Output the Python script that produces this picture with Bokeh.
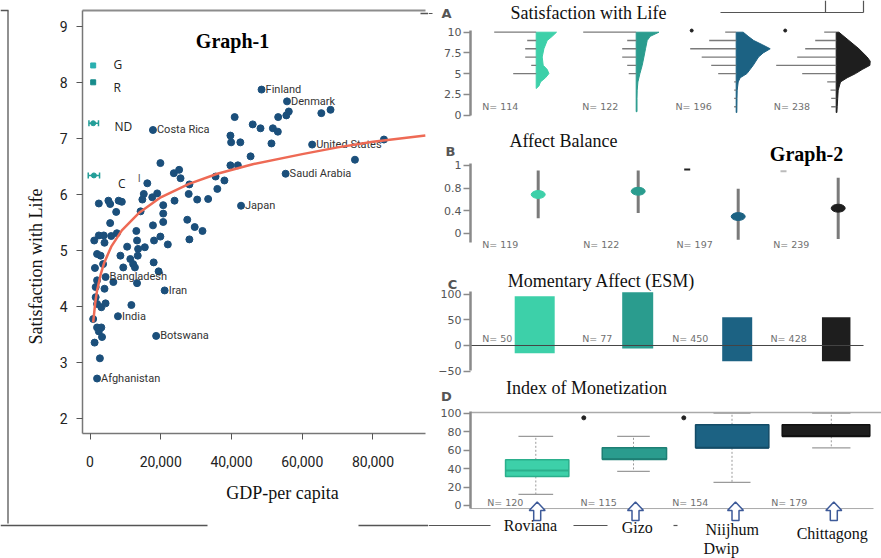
import math
from bokeh.plotting import figure
from bokeh.models import Range1d, LinearAxis, FixedTicker, NumeralTickFormatter
from bokeh.layouts import row
from bokeh.embed import file_html
from bokeh.resources import INLINE
from bokeh.core.properties import value

# ---------------- Graph-1 data ----------------
countries = ["Finland", "Denmark", "United States", "Saudi Arabia", "Japan", "Costa Rica",
             "Bangladesh", "Iran", "India", "Botswana", "Afghanistan"]
country_gdp = [48500, 55700, 62800, 55300, 42700, 17800, 4400, 21100, 7900, 18700, 2000]
country_swl = [7.87, 7.66, 6.89, 6.37, 5.80, 7.15, 4.53, 4.29, 3.83, 3.48, 2.72]

other_gdp = [65400, 68000, 56200, 55500, 53200, 40900, 46000, 48200, 51700, 53100, 39700, 39900,
             42500, 51300, 83100, 74900, 45400, 39700, 41800, 38000, 35500, 36000, 19900, 23700,
             25200, 25600, 28100, 27900, 30300, 33400, 23900, 16200, 19000, 17600, 15200, 14800,
             14300, 20700, 20700, 20700, 27500, 29600, 31800, 28100, 17800, 19900, 18100, 22000,
             15500, 13100, 13300, 13600, 13500, 10500, 8600, 11400, 12200, 12700, 18000, 19400,
             2500, 5200, 5700, 8100, 9000, 7400, 5700, 7600, 6000, 1200, 2500, 3900, 4100, 2000,
             3000, 3700, 1400, 9400, 6600, 13300, 2000, 1600, 4100, 1600, 2000, 3200, 4400, 11700,
             900, 2000, 3200, 2500, 3400, 1300, 2800]
other_swl = [7.45, 7.51, 7.48, 7.41, 7.38, 7.38, 7.25, 7.18, 7.18, 7.12, 7.05, 6.93, 6.93, 6.91,
             6.98, 6.62, 6.68, 6.52, 6.52, 6.25, 6.32, 6.10, 6.56, 6.38, 6.44, 6.29, 6.18, 6.01,
             5.91, 5.92, 5.89, 6.20, 6.02, 5.95, 6.01, 5.91, 5.70, 5.81, 5.66, 5.51, 5.55, 5.42,
             5.35, 5.20, 5.45, 5.25, 5.18, 5.11, 5.06, 5.35, 5.18, 5.03, 4.91, 5.07, 4.91, 4.85,
             4.76, 4.70, 4.79, 4.63, 5.84, 5.89, 5.83, 5.89, 5.87, 5.69, 5.49, 5.31, 5.26, 5.18,
             5.27, 5.27, 5.14, 4.94, 4.91, 4.76, 4.69, 4.70, 4.44, 4.42, 4.47, 4.35, 4.32, 4.17,
             4.05, 3.99, 4.06, 4.03, 3.78, 3.63, 3.63, 3.56, 3.46, 3.36, 3.08]

trend_gdp = [900, 1500, 2000, 3000, 4000, 6000, 9000, 14000, 20000, 28000, 36000, 46000, 60000,
             70000, 80000, 94800]
trend_swl = [3.72, 4.08, 4.29, 4.57, 4.78, 5.07, 5.36, 5.68, 5.95, 6.19, 6.37, 6.54, 6.72, 6.84,
             6.94, 7.05]

site_labels = ["G", "R", "ND", "C"]
site_gdp = [900, 900, 900, 1100]
site_swl = [8.30, 8.00, 7.27, 6.34]
site_err_lo = [None, None, -300, -500]
site_err_hi = [None, None, 2400, 2700]

y_ticks_1 = [2, 3, 4, 5, 6, 7, 8, 9]
x_ticks_1 = [0, 20000, 40000, 60000, 80000]

# ---------------- Graph-2 data ----------------
sites = ["Roviana", "Gizo", "Niijhum", "Chittagong"]
swl_N = [114, 122, 196, 238]
ab_N = [119, 122, 197, 239]
esm_N = [50, 77, 450, 428]
mon_N = [120, 115, 154, 179]

# A: half-violin profiles (level, density width in group units)
violin_levels = [
    [3.2, 3.5, 4, 4.5, 5, 5.5, 6, 7, 8, 9, 9.5, 10],
    [0.4, 2, 3, 4, 5, 6, 7, 8, 9, 9.5, 10],
    [0.3, 2, 3, 4, 4.5, 5, 6, 7, 7.5, 8, 8.5, 9, 9.5, 10],
    [0.3, 1, 2, 3, 4, 4.5, 5, 5.5, 6, 6.5, 7, 8, 9, 10],
]
violin_density = [
    [0.0, 0.027, 0.043, 0.093, 0.127, 0.11, 0.07, 0.06, 0.077, 0.11, 0.16, 0.203],
    [0.008, 0.008, 0.01, 0.017, 0.037, 0.06, 0.077, 0.093, 0.11, 0.14, 0.227],
    [0.006, 0.008, 0.01, 0.02, 0.04, 0.107, 0.17, 0.223, 0.27, 0.34, 0.26, 0.175, 0.12, 0.07],
    [0.007, 0.01, 0.015, 0.02, 0.043, 0.11, 0.193, 0.26, 0.337, 0.34, 0.31, 0.227, 0.127, 0.027],
]
count_levels = [10, 9, 8, 7, 6, 5, 4, 3, 2, 1]
count_len = [
    [0.42, 0.09, 0.11, 0.11, 0.05, 0.23, 0, 0, 0, 0],
    [0.53, 0.09, 0.14, 0.14, 0.09, 0.075, 0, 0, 0, 0],
    [0.11, 0.27, 0.46, 0.345, 0.25, 0.18, 0.02, 0.02, 0.02, 0.02],
    [0.12, 0.21, 0.31, 0.39, 0.60, 0.34, 0.09, 0.057, 0.05, 0.05],
]
swl_outlier = [None, None, 10.2, 10.2]

# B: affect balance
ab_mid = [0.685, 0.743, 0.295, 0.443]
ab_lo = [0.265, 0.36, -0.117, -0.10]
ab_hi = [1.11, 1.11, 0.786, 0.98]
ab_outlier = [None, None, 1.127, 1.097]

# C: momentary affect
esm_top = [96, 104, 55, 55]
esm_bottom = [-15, -6, -31, -31]

# D: index of monetization
mon_whisk_lo = [12, 37, 25, 62.5]
mon_q1 = [31.5, 50, 62.5, 75]
mon_med = [38, 50, 62.5, 75]
mon_q3 = [49.5, 62.5, 87.5, 87.5]
mon_whisk_hi = [75, 75, 100, 100]
mon_outlier = [None, 95, 95, None]

# ---------------- styles ----------------
colors = ["#3DD0A9", "#2A9C8E", "#1C6283", "#1E1E1E"]
dark = ["#2BAF8C", "#1E7F74", "#134B66", "#111111"]
SERIF = value("Liberation Serif")
NARROW = value("Roboto")
SANS = value("DejaVu Sans")

# ================= Graph-1 =================
pl = figure(width=428, height=558, x_range=Range1d(-25302, 95695), y_range=Range1d(-0.488, 9.458),
            x_axis_type=None, y_axis_type=None, min_border=0, output_backend="svg",
            toolbar_location=None)
pl.outline_line_color = None
pl.extra_x_ranges = {"px": Range1d(0, 428)}
pl.extra_y_ranges = {"py": Range1d(558, 0)}

yax = LinearAxis(fixed_location=-2120, bounds=(1.74, 9.28), ticker=FixedTicker(ticks=y_ticks_1))
xax = LinearAxis(fixed_location=1.74, bounds=(-2120, 94846), ticker=FixedTicker(ticks=x_ticks_1),
                 formatter=NumeralTickFormatter(format="0,0"))
for ax in (yax, xax):
    ax.axis_line_color = "#777777"
    ax.axis_line_width = 1.5
    ax.major_tick_line_color = "#555555"
    ax.major_tick_out = 6
    ax.major_tick_in = 0
    ax.minor_tick_line_color = None
    ax.major_label_text_font = "Roboto"
    ax.major_label_text_font_size = "14px"
    ax.major_label_text_color = "#222222"
yax.major_label_standoff = 9
xax.major_label_standoff = 16
pl.add_layout(yax, "left")
pl.add_layout(xax, "below")

# top frame line
pl.segment(x0=[-2120], y0=[9.28], x1=[94846], y1=[9.28], line_color="#8c8c8c", line_width=2)

pl.scatter(other_gdp, other_swl, size=7, color="#1B4F7B")
pl.scatter(country_gdp, country_swl, size=7, color="#1B4F7B")
pl.text(x=country_gdp, y=country_swl, text=countries, x_offset=4, text_baseline="middle",
        text_font=NARROW, text_font_size="11px", text_color="#333333")
pl.line(trend_gdp, trend_swl, line_color="#EE6A55", line_width=2.5)

# site markers
pl.scatter(site_gdp[:1], site_swl[:1], marker="square", size=5, color="#2AB0B0")
pl.scatter(site_gdp[1:2], site_swl[1:2], marker="square", size=5, color="#178C8C")
pl.scatter(site_gdp[2:], site_swl[2:], size=5, color="#239E98")
pl.segment(x0=site_err_lo[2:], y0=site_swl[2:], x1=site_err_hi[2:], y1=site_swl[2:],
           line_color="#239E98", line_width=1.5)
pl.scatter(site_err_lo[2:] + site_err_hi[2:], site_swl[2:] * 2, marker="dash", angle=math.pi / 2,
           size=6, line_color="#239E98", line_width=1.5)
pl.text(x=[6640, 6640, 6900, 7900], y=[8.31, 7.91, 7.22, 6.20], text=site_labels,
        text_baseline="middle", text_font=value("Open Sans"), text_font_size="12px",
        text_color="#222222")
pl.text(x=[13900], y=[6.29], text=["I"], text_align="center", text_baseline="middle",
        text_font=NARROW, text_font_size="11px", text_color="#666666")

# labels & decorations (page-pixel coordinates)
pl.text(x=[232], y=[40], text=["Graph-1"], x_range_name="px", y_range_name="py",
        text_align="center", text_baseline="middle", text_font=SERIF, text_font_size="20px",
        text_font_style="bold", text_color="#000000")
pl.text(x=[35], y=[266], text=["Satisfaction with Life"], angle=math.pi / 2, x_range_name="px",
        y_range_name="py", text_align="center", text_baseline="middle", text_font=SERIF,
        text_font_size="18px", text_color="#111111")
pl.text(x=[282], y=[492], text=["GDP-per capita"], x_range_name="px", y_range_name="py",
        text_align="center", text_baseline="middle", text_font=SERIF, text_font_size="18px",
        text_color="#111111")
pl.segment(x0=[7.5, 0, 358, 420, 0], y0=[10, 525, 525, 13, 10], x1=[7.5, 207, 428, 428, 8],
           y1=[523, 525, 525, 13, 10], x_range_name="px", y_range_name="py",
           line_color="#555555", line_width=1.3)

# ================= Graph-2 =================
pr = figure(width=453, height=558, x_range=Range1d(-0.077, 4.453), y_range=Range1d(-53.56, 13.83),
            x_axis_type=None, y_axis_type=None, min_border=0, output_backend="svg",
            toolbar_location=None)
pr.outline_line_color = None
pr.extra_y_ranges = {"B": Range1d(-5.757, 4.119), "C": Range1d(-416.0, 673.8),
                     "D": Range1d(-57.45, 547.4), "py": Range1d(558, 0)}
pr.extra_x_ranges = {"px": Range1d(428, 881)}

AXX = 0.343


def panel_axis(rng, ticks, bounds, overrides=None):
    kw = {} if rng is None else {"y_range_name": rng}
    ax = LinearAxis(fixed_location=AXX, bounds=bounds, ticker=FixedTicker(ticks=ticks), **kw)
    ax.axis_line_color = "#8a8a8a"
    ax.axis_line_width = 2.5
    ax.major_tick_line_color = "#8a8a8a"
    ax.major_tick_line_width = 1.5
    ax.major_tick_out = 7
    ax.major_tick_in = 0
    ax.minor_tick_line_color = None
    ax.major_label_text_font = "DejaVu Sans"
    ax.major_label_text_font_size = "11px"
    ax.major_label_text_color = "#555555"
    ax.major_label_standoff = 2
    if overrides:
        ax.major_label_overrides = overrides
    pr.add_layout(ax, "left")


panel_axis(None, [0, 2.5, 5, 7.5, 10], (-0.06, 10.2))
panel_axis("B", [0, 0.4, 0.8, 1.2], (-0.165, 1.234), {1.2: "1"})
panel_axis("C", [-50, 0, 50, 100], (-48.8, 106))
panel_axis("D", [0, 20, 40, 60, 80, 100], (-3.6, 102.2))

gx = [1, 2, 3, 4]

# ---- A: half violins + count lines
for i in range(4):
    base = gx[i]
    lv = violin_levels[i]
    dn = violin_density[i]
    xs = [base + d for d in dn] + [base, base]
    ys = list(lv) + [lv[-1], lv[0]]
    pr.patch(xs, ys, fill_color=colors[i], line_color=colors[i], line_width=1)
    x0 = [base - L for L in count_len[i] if L > 0]
    yy = [lvl for lvl, L in zip(count_levels, count_len[i]) if L > 0]
    pr.segment(x0=x0, y0=yy, x1=[base] * len(x0), y1=yy, line_color="#7a7a7a", line_width=1.3)
ox = [gx[i] + off for i, off in zip(range(4), [0, 0, -0.445, -0.51]) if swl_outlier[i] is not None]
oy = [v for v in swl_outlier if v is not None]
pr.scatter(ox, oy, size=3, color="#222222")

# ---- B: affect balance
bx = [g + 0.02 for g in gx]
pr.segment(x0=bx, y0=ab_lo, x1=bx, y1=ab_hi, y_range_name="B", line_color="#7a7a7a", line_width=3)
pr.ellipse(x=bx, y=ab_mid, width=0.14, height=0.14, y_range_name="B", fill_color=colors,
           line_color=colors)
bo_x = [gx[2] - 0.49, gx[3] - 0.527]
pr.scatter(bo_x, [ab_outlier[2], ab_outlier[3]], y_range_name="B", marker="dash", size=6,
           line_color=["#222222", "#bbbbbb"], line_width=2)

# ---- C: momentary affect
cx = [g + s for g, s in zip(gx, [-0.015, 0.015, 0.01, 0.0])]
cw = [0.40, 0.31, 0.30, 0.285]
pr.vbar(x=cx, width=cw, top=esm_top, bottom=esm_bottom, y_range_name="C", fill_color=colors,
        line_color=None)
pr.segment(x0=[AXX], y0=[0], x1=[4.273], y1=[0], y_range_name="C", line_color="#444444",
           line_width=1)

# ---- D: monetization boxplots
dx = [g + s for g, s in zip(gx, [0.01, -0.018, -0.04, -0.102])]
dw = [0.633, 0.643, 0.733, 0.876]
wx = [g + s for g, s in zip(gx, [-0.004, -0.027, -0.042, -0.049])]
capw = [0.347, 0.326, 0.37, 0.383]
pr.segment(x0=[AXX], y0=[100.8], x1=[4.453], y1=[100.8], y_range_name="D", line_color="#aaaaaa",
           line_width=1.5)
pr.segment(x0=[AXX], y0=[-3.3], x1=[4.373], y1=[-3.3], y_range_name="D", line_color="#aaaaaa",
           line_width=1)
pr.segment(x0=wx, y0=mon_q3, x1=wx, y1=mon_whisk_hi, y_range_name="D", line_color="#9a9a9a",
           line_width=1, line_dash="2 2")
pr.segment(x0=wx, y0=mon_q1, x1=wx, y1=mon_whisk_lo, y_range_name="D", line_color="#9a9a9a",
           line_width=1, line_dash="2 2")
pr.segment(x0=[w - c / 2 for w, c in zip(wx, capw)], y0=mon_whisk_hi,
           x1=[w + c / 2 for w, c in zip(wx, capw)], y1=mon_whisk_hi, y_range_name="D",
           line_color="#9a9a9a", line_width=1.2)
pr.segment(x0=[w - c / 2 for w, c in zip(wx, capw)], y0=mon_whisk_lo,
           x1=[w + c / 2 for w, c in zip(wx, capw)], y1=mon_whisk_lo, y_range_name="D",
           line_color="#9a9a9a", line_width=1.2)
pr.quad(left=[x - w / 2 for x, w in zip(dx, dw)], right=[x + w / 2 for x, w in zip(dx, dw)],
        top=mon_q3, bottom=mon_q1, y_range_name="D", fill_color=colors, line_color=dark,
        line_width=1.5)
pr.segment(x0=[x - w / 2 for x, w in zip(dx, dw)], y0=mon_med,
           x1=[x + w / 2 for x, w in zip(dx, dw)], y1=mon_med, y_range_name="D",
           line_color=dark, line_width=2)
mo_x = [gx[i] - 0.524 for i in range(4) if mon_outlier[i] is not None]
mo_y = [v for v in mon_outlier if v is not None]
pr.scatter(mo_x, mo_y, y_range_name="D", size=4, color="#222222")

# ---- panel texts (page-pixel coordinates)
PX = dict(x_range_name="px", y_range_name="py")
pr.text(x=[588, 563, 601, 586], y=[12, 140, 280, 387],
        text=["Satisfaction with Life", "Affect Balance", "Momentary Affect (ESM)",
              "Index of Monetization"], text_align="center", text_baseline="middle",
        text_font=SERIF, text_font_size="18px", text_color="#111111", **PX)
pr.text(x=[446, 450, 452, 446], y=[13, 151, 284, 396], text=["A", "B", "C", "D"],
        text_align="center", text_baseline="middle", text_font=SANS, text_font_size="13px",
        text_font_style="bold", text_color="#555555", **PX)
pr.text(x=[806], y=[153], text=["Graph-2"], text_align="center", text_baseline="middle",
        text_font=SERIF, text_font_size="20px", text_font_style="bold", text_color="#000000", **PX)

n_style = dict(text_baseline="middle", text_font=SANS, text_font_size="9.5px", text_color="#707070")
pr.text(x=[481.7, 581.7, 675, 773.3], y=[106] * 4, text=["N= %d" % n for n in swl_N], **n_style, **PX)
pr.text(x=[481.7, 582.7, 676, 772.7], y=[244.3] * 4, text=["N= %d" % n for n in ab_N], **n_style, **PX)
pr.text(x=[481.7, 581.7, 671.7, 770], y=[337.7] * 4, text=["N= %d" % n for n in esm_N], **n_style, **PX)
pr.text(x=[486.7, 580, 671.7, 770.7], y=[501.7] * 4, text=["N= %d" % n for n in mon_N], **n_style, **PX)

# outlined up-arrows above the site names
arrow_cx = [536.7, 635, 735, 833.3]
arrow_dx = [0, 8, 3.5, 3.5, -3.5, -3.5, -8]
arrow_dy = [501.5, 510, 510, 520, 520, 510, 510]
pr.patches(xs=[[c + d for d in arrow_dx] for c in arrow_cx], ys=[arrow_dy] * 4,
           fill_color="#ffffff", line_color="#3D5A99", line_width=1.5, **PX)
pr.text(x=[530, 636.7, 731.7, 831.7], y=[525, 527, 529, 533], text=sites, text_align="center",
        text_baseline="middle", text_font=SERIF, text_font_size="16px", text_color="#111111", **PX)
pr.text(x=[703], y=[548], text=["Dwip"], text_baseline="middle", text_font=SERIF,
        text_font_size="16px", text_color="#111111", **PX)

# decorative frame lines
pr.segment(x0=[720, 825, 863, 428, 573, 673, 428], y0=[12, 0, 0, 525, 525, 525, 13],
           x1=[863, 825, 863, 490, 607, 677, 432], y1=[12, 12, 12, 525, 525, 525, 13],
           line_color="#555555", line_width=1.2, **PX)

layout = row(pl, pr, spacing=0)
open("out.html", "w").write(file_html(layout, INLINE))
